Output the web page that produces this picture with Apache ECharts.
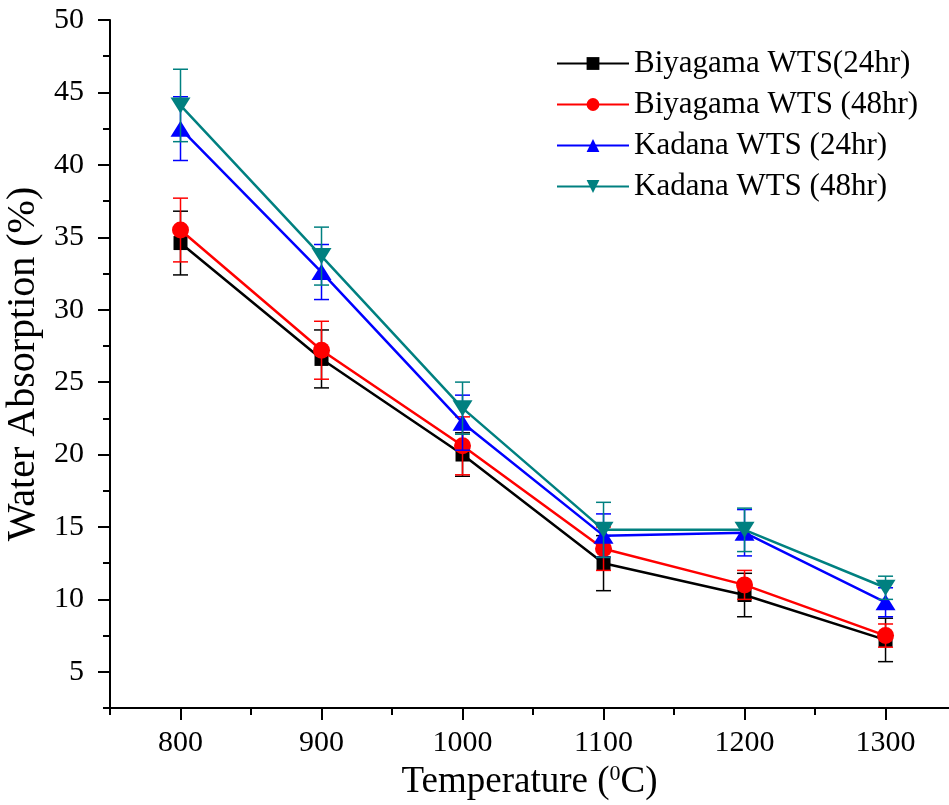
<!DOCTYPE html>
<html>
<head>
<meta charset="utf-8">
<script src="https://cdn.jsdelivr.net/npm/echarts@6/dist/echarts.min.js"></script>
<style>html,body{margin:0;padding:0;background:#fff}#c{width:949px;height:805px}</style>
</head>
<body>
<div id="c"></div>
<script>
var temps = [800, 900, 1000, 1100, 1200, 1300];
var biy24 = [34.6, 26.6, 20.0, 12.5, 10.3, 7.2];
var biy24Err = [2.2, 2.0, 1.5, 1.9, 1.5, 1.5];
var biy48 = [35.5, 27.2, 20.6, 13.5, 11.0, 7.5];
var biy48Err = [2.2, 2.0, 2.0, 1.5, 1.0, 0.8];
var kad24 = [42.5, 32.6, 22.2, 14.4, 14.6, 9.8];
var kad24Err = [2.2, 1.9, 1.9, 1.5, 1.6, 1.0];
var kad48 = [44.1, 33.7, 23.2, 14.8, 14.8, 10.8];
var kad48Err = [2.5, 2.0, 1.8, 1.9, 1.5, 0.8];
var seriesNames = ['Biyagama WTS(24hr)', 'Biyagama WTS (48hr)', 'Kadana WTS (24hr)', 'Kadana WTS (48hr)'];
var xMajor = [800, 900, 1000, 1100, 1200, 1300];
var xMinor = [750, 850, 950, 1050, 1150, 1250];
var yMajor = [5, 10, 15, 20, 25, 30, 35, 40, 45, 50];
var yMinor = [2.5, 7.5, 12.5, 17.5, 22.5, 27.5, 32.5, 37.5, 42.5, 47.5];

var FONT = 'Liberation Serif';
var colors = ['#000000', '#ff0000', '#0000ff', '#008080'];
var symbols = ['rect', 'circle', 'triangle', 'triangle'];
var symSizes = [14, 17, [20, 16], [20, 16]];
var rotates = [0, 0, 0, 180];
var vals = [biy24, biy48, kad24, kad48];
var errs = [biy24Err, biy48Err, kad24Err, kad48Err];

function pairs(v) { return temps.map(function (t, i) { return [t, v[i]]; }); }
function triples(v, e) { return temps.map(function (t, i) { return [t, v[i], e[i]]; }); }

var series = [];
for (var k = 0; k < 4; k++) {
  series.push({
    name: seriesNames[k], type: 'line', data: pairs(vals[k]),
    xAxisIndex: 0, yAxisIndex: 0,
    symbol: symbols[k], symbolSize: symSizes[k], symbolRotate: rotates[k],
    lineStyle: { color: colors[k], width: 2.5 },
    itemStyle: { color: colors[k] },
    z: 3 + k * 2, animation: false
  });
  (function (c) {
    series.push({
      type: 'custom', data: triples(vals[k], errs[k]),
      xAxisIndex: 0, yAxisIndex: 0, z: 4 + k * 2, animation: false,
      encode: { x: 0, y: 1 },
      renderItem: function (params, api) {
        var x = api.value(0), y = api.value(1), e = api.value(2);
        var top = api.coord([x, y + e]);
        var bot = api.coord([x, y - e]);
        var hw = 7.5;
        var st = { stroke: c, lineWidth: 1.5 };
        return { type: 'group', children: [
          { type: 'line', shape: { x1: top[0], y1: top[1], x2: bot[0], y2: bot[1] }, style: st },
          { type: 'line', shape: { x1: top[0] - hw, y1: top[1], x2: top[0] + hw, y2: top[1] }, style: st },
          { type: 'line', shape: { x1: bot[0] - hw, y1: bot[1], x2: bot[0] + hw, y2: bot[1] }, style: st }
        ] };
      }
    });
  })(colors[k]);
}

var axisLineStyle = { color: '#000', width: 2 };
var option = {
  backgroundColor: '#fff',
  animation: false,
  grid: { left: 110, right: 0, top: 20, bottom: 97, containLabel: false, outerBoundsMode: 'none' },
  legend: {
    left: 556, top: 48, orient: 'vertical', padding: 0,
    itemWidth: 72, itemHeight: 16, itemGap: 10,
    data: seriesNames,
    textStyle: { fontFamily: FONT, fontSize: 31, color: '#000', lineHeight: 30 }
  },
  xAxis: [{
    type: 'value', min: 750, max: 1345, position: 'bottom',
    axisLine: { show: true, lineStyle: axisLineStyle },
    axisTick: { show: true, length: 12, lineStyle: { color: '#000', width: 2 }, customValues: xMajor },
    axisLabel: { customValues: xMajor, formatter: function (v) { return String(v); },
      fontFamily: FONT, fontSize: 30, color: '#000', margin: 20 },
    splitLine: { show: false },
    name: 'Temperature ({sup|0}C)', nameLocation: 'middle', nameGap: 55,
    nameTextStyle: { fontFamily: FONT, fontSize: 37, color: '#000',
      rich: { sup: { fontFamily: FONT, fontSize: 22, color: '#000', verticalAlign: 'top', padding: [0, 0, 16, 0] } } }
  }, {
    type: 'value', min: 750, max: 1345, position: 'bottom', gridIndex: 0,
    axisLine: { show: false },
    axisTick: { show: true, length: 7, lineStyle: { color: '#000', width: 2 }, customValues: xMinor },
    axisLabel: { show: false }, splitLine: { show: false }
  }],
  yAxis: [{
    type: 'value', min: 2.5, max: 50, position: 'left',
    axisLine: { show: true, lineStyle: axisLineStyle },
    axisTick: { show: true, length: 12, lineStyle: { color: '#000', width: 2 }, customValues: yMajor },
    axisLabel: { customValues: yMajor, fontFamily: FONT, fontSize: 30, color: '#000', margin: 26 },
    splitLine: { show: false },
    name: 'Water Absorption (%)', nameLocation: 'middle', nameGap: 64,
    nameTextStyle: { fontFamily: FONT, fontSize: 40, color: '#000' }
  }, {
    type: 'value', min: 2.5, max: 50, position: 'left', gridIndex: 0,
    axisLine: { show: false },
    axisTick: { show: true, length: 7, lineStyle: { color: '#000', width: 2 }, customValues: yMinor },
    axisLabel: { show: false }, splitLine: { show: false }
  }],
  series: series
};
var chart = echarts.init(document.getElementById('c'), null, { renderer: 'canvas' });
chart.setOption(option);
</script>
</body>
</html>
